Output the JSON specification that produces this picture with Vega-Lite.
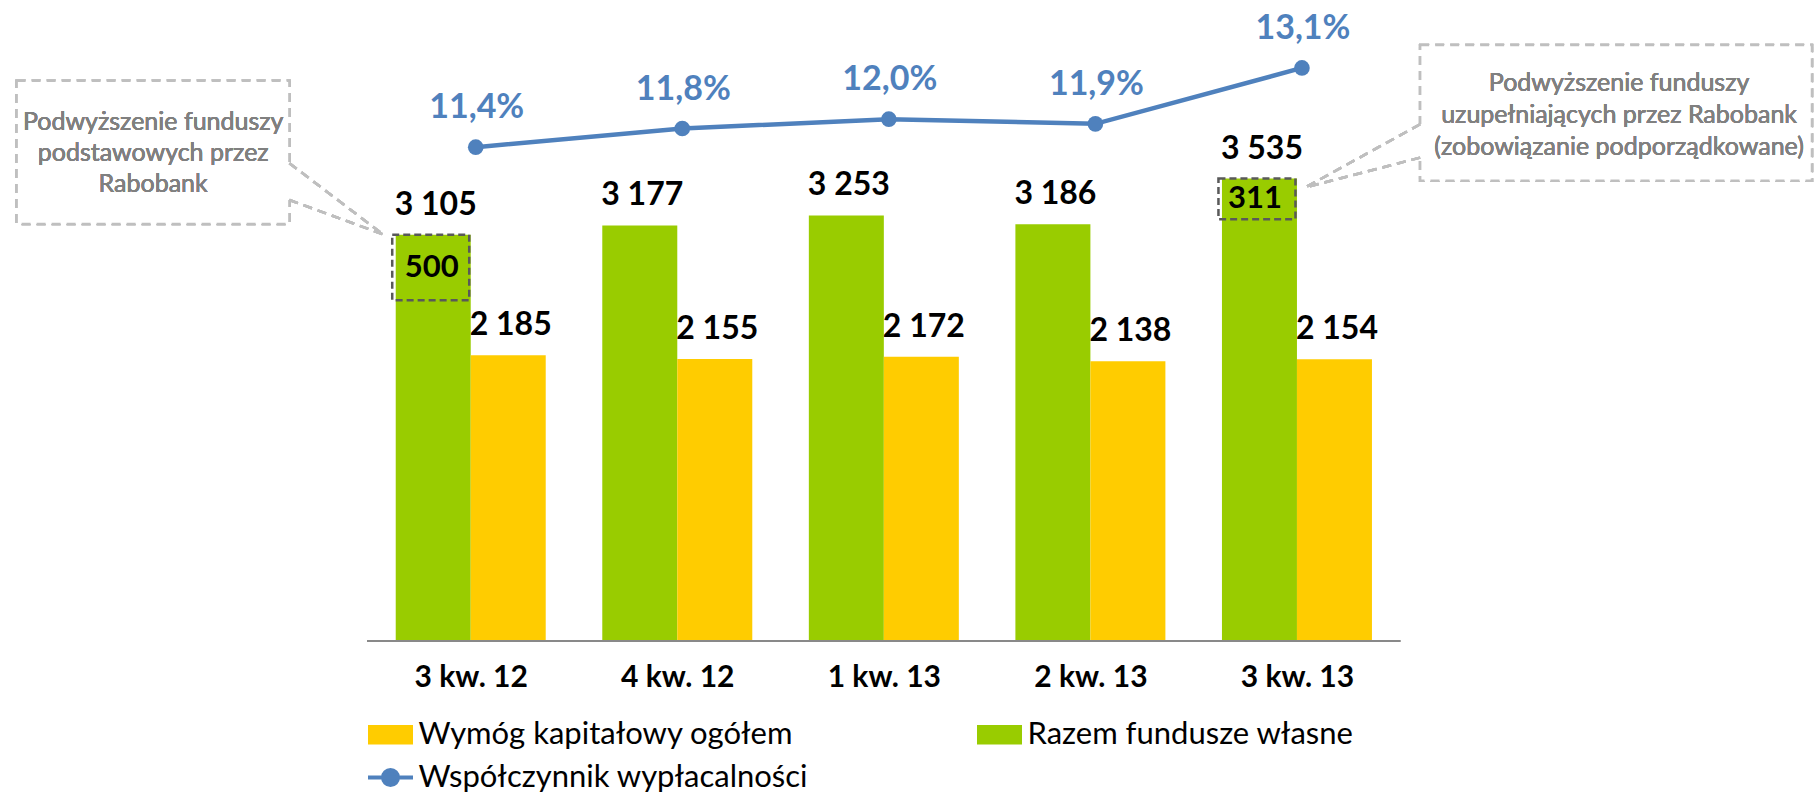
{
  "$schema": "https://vega.github.io/schema/vega-lite/v6.json",
  "width": 1820,
  "height": 641,
  "autosize": {"type": "none"},
  "padding": {"left": 0, "top": 0, "right": 0, "bottom": 154},
  "background": "white",
  "data": {
    "values": [
      {"kw": "3 kw. 12", "i": 0, "fundusze": 3105, "wymog": 2185, "wsp": 0.114, "przed": 2605, "podw": 500},
      {"kw": "4 kw. 12", "i": 1, "fundusze": 3177, "wymog": 2155, "wsp": 0.118},
      {"kw": "1 kw. 13", "i": 2, "fundusze": 3253, "wymog": 2172, "wsp": 0.120},
      {"kw": "2 kw. 13", "i": 3, "fundusze": 3186, "wymog": 2138, "wsp": 0.119},
      {"kw": "3 kw. 13", "i": 4, "fundusze": 3535, "wymog": 2154, "wsp": 0.131, "przed": 3224, "podw": 311}
    ]
  },
  "resolve": {"scale": {"y": "independent"}},
  "layer": [
    {
      "layer": [
        {
          "mark": {"type": "bar", "width": 75, "xOffset": -37.5},
          "encoding": {
            "x": {"field": "i", "type": "quantitative", "scale": {"domain": [-2.2547, 6.508], "nice": false, "zero": false},
              "axis": {"values": [0, 1, 2, 3, 4], "labelExpr": "['3 kw. 12','4 kw. 12','1 kw. 13','2 kw. 13','3 kw. 13'][datum.value]", "domain": false, "ticks": false, "tickSize": 0, "grid": false, "title": null, "labelFont": "Lato", "labelFontSize": 30, "labelFontWeight": "bold", "labelColor": "black", "labelBaseline": "alphabetic", "labelPadding": 45, "labelFlush": false, "labelOverlap": false}},
            "y": {"field": "fundusze", "type": "quantitative", "scale": {"domain": [0, 4900], "nice": false, "zero": false}, "axis": null},
            "color": {"datum": "Razem fundusze własne", "type": "nominal",
              "scale": {"domain": ["Wymóg kapitałowy ogółem", "Razem fundusze własne", "Współczynnik wypłacalności"], "range": ["#FFCC00", "#99CC00", "#4F81BD"]},
              "legend": {"orient": "none", "legendX": 375, "legendY": 719, "columns": 2, "direction": "horizontal", "title": null,
                "labelFont": "Lato", "labelFontSize": 31, "labelColor": "black", "labelLimit": 0, "labelOffset": 12.5,
                "symbolSize": 900, "columnPadding": 168, "rowPadding": 11, "symbolType": "square",
                "encode": {"symbols": {"update": {
                  "shape": {"signal": "datum.value === 'Współczynnik wypłacalności' ? 'M-1.5,0L1.5,0M-0.5,0A0.5,0.5,0,1,1,0.5,0A0.5,0.5,0,1,1,-0.5,0Z' : 'M-1.5,-0.65L1.5,-0.65L1.5,0.65L-1.5,0.65Z'"},
                  "fill": {"signal": "scale('color', datum.value)"},
                  "stroke": {"signal": "scale('color', datum.value)"},
                  "strokeWidth": {"signal": "datum.value === 'Współczynnik wypłacalności' ? 4 : 0"},
                  "size": {"value": 900},
                  "opacity": {"value": 1},
                  "fillOpacity": {"value": 1},
                  "strokeOpacity": {"value": 1}
                }}}}
            }
          }
        },
        {
          "mark": {"type": "bar", "width": 75, "xOffset": 37.5},
          "encoding": {
            "x": {"field": "i", "type": "quantitative", "scale": {"domain": [-2.2547, 6.508], "nice": false, "zero": false}},
            "y": {"field": "wymog", "type": "quantitative", "scale": {"domain": [0, 4900], "nice": false, "zero": false}},
            "color": {"datum": "Wymóg kapitałowy ogółem", "type": "nominal"}
          }
        },
        {
          "mark": {"type": "rule", "color": "#898989", "strokeWidth": 2},
          "encoding": {
            "x": {"datum": -0.5, "type": "quantitative", "scale": {"domain": [-2.2547, 6.508], "nice": false, "zero": false}},
            "x2": {"datum": 4.5},
            "y": {"datum": 0, "type": "quantitative", "scale": {"domain": [0, 4900], "nice": false, "zero": false}}
          }
        },
        {
          "mark": {"type": "text", "dx": -35, "dy": -20, "baseline": "alphabetic", "align": "center", "font": "Lato", "fontWeight": "bold", "fontSize": 32, "color": "black"},
          "encoding": {
            "x": {"field": "i", "type": "quantitative", "scale": {"domain": [-2.2547, 6.508], "nice": false, "zero": false}},
            "y": {"field": "fundusze", "type": "quantitative", "scale": {"domain": [0, 4900], "nice": false, "zero": false}},
            "text": {"field": "fundusze", "type": "quantitative", "format": ",d"}
          }
        },
        {
          "mark": {"type": "text", "dx": 40, "dy": -20, "baseline": "alphabetic", "align": "center", "font": "Lato", "fontWeight": "bold", "fontSize": 32, "color": "black"},
          "encoding": {
            "x": {"field": "i", "type": "quantitative", "scale": {"domain": [-2.2547, 6.508], "nice": false, "zero": false}},
            "y": {"field": "wymog", "type": "quantitative", "scale": {"domain": [0, 4900], "nice": false, "zero": false}},
            "text": {"field": "wymog", "type": "quantitative", "format": ",d"}
          }
        },
        {
          "transform": [{"filter": "isValid(datum.przed)"}],
          "mark": {"type": "bar", "width": 77, "xOffset": -40, "fillOpacity": 0, "stroke": "#595959", "strokeWidth": 2.5, "strokeDash": [7, 4]},
          "encoding": {
            "x": {"field": "i", "type": "quantitative", "scale": {"domain": [-2.2547, 6.508], "nice": false, "zero": false}},
            "y": {"field": "przed", "type": "quantitative", "scale": {"domain": [0, 4900], "nice": false, "zero": false}},
            "y2": {"field": "fundusze"}
          }
        },
        {
          "transform": [{"filter": "datum.i === 0"}],
          "mark": {"type": "text", "dx": -39, "dy": 32.7, "baseline": "middle", "align": "center", "font": "Lato", "fontWeight": "bold", "fontSize": 31, "color": "black"},
          "encoding": {
            "x": {"field": "i", "type": "quantitative", "scale": {"domain": [-2.2547, 6.508], "nice": false, "zero": false}},
            "y": {"field": "fundusze", "type": "quantitative", "scale": {"domain": [0, 4900], "nice": false, "zero": false}},
            "text": {"field": "podw", "type": "quantitative", "format": ",d"}
          }
        },
        {
          "transform": [{"filter": "datum.i === 4"}],
          "mark": {"type": "text", "dx": -42, "dy": 20.3, "baseline": "middle", "align": "center", "font": "Lato", "fontWeight": "bold", "fontSize": 31, "color": "black"},
          "encoding": {
            "x": {"field": "i", "type": "quantitative", "scale": {"domain": [-2.2547, 6.508], "nice": false, "zero": false}},
            "y": {"field": "fundusze", "type": "quantitative", "scale": {"domain": [0, 4900], "nice": false, "zero": false}},
            "text": {"field": "podw", "type": "quantitative", "format": ",d"}
          }
        },
        {
          "mark": {"type": "rect", "fill": "white", "stroke": "#BFBFBF", "strokeWidth": 2.5, "strokeDash": [9, 6]},
          "encoding": {
            "x": {"datum": -2.1984, "type": "quantitative", "scale": {"domain": [-2.2547, 6.508], "nice": false, "zero": false}},
            "x2": {"datum": -0.8777},
            "y": {"datum": 4283, "type": "quantitative", "scale": {"domain": [0, 4900], "nice": false, "zero": false}},
            "y2": {"datum": 3187}
          }
        },
        {
          "mark": {"type": "rule", "color": "white", "strokeWidth": 5},
          "encoding": {
            "x": {"datum": -0.8777, "type": "quantitative", "scale": {"domain": [-2.2547, 6.508], "nice": false, "zero": false}},
            "y": {"datum": 3652, "type": "quantitative", "scale": {"domain": [0, 4900], "nice": false, "zero": false}},
            "y2": {"datum": 3371}
          }
        },
        {
          "mark": {"type": "rule", "color": "#BFBFBF", "strokeWidth": 2.5, "strokeDash": [9, 6]},
          "encoding": {
            "x": {"datum": -0.8777, "type": "quantitative", "scale": {"domain": [-2.2547, 6.508], "nice": false, "zero": false}},
            "x2": {"datum": -0.4251},
            "y": {"datum": 3652, "type": "quantitative", "scale": {"domain": [0, 4900], "nice": false, "zero": false}},
            "y2": {"datum": 3109}
          }
        },
        {
          "mark": {"type": "rule", "color": "#BFBFBF", "strokeWidth": 2.5, "strokeDash": [9, 6]},
          "encoding": {
            "x": {"datum": -0.8777, "type": "quantitative", "scale": {"domain": [-2.2547, 6.508], "nice": false, "zero": false}},
            "x2": {"datum": -0.4251},
            "y": {"datum": 3371, "type": "quantitative", "scale": {"domain": [0, 4900], "nice": false, "zero": false}},
            "y2": {"datum": 3109}
          }
        },
        {
          "mark": {"type": "text", "text": ["Podwyższenie funduszy", "podstawowych przez", "Rabobank"], "align": "center", "baseline": "middle", "lineHeight": 31, "font": "Lato", "fontSize": 25, "fontWeight": "normal", "color": "#808080"},
          "encoding": {
            "x": {"datum": -1.5373, "type": "quantitative", "scale": {"domain": [-2.2547, 6.508], "nice": false, "zero": false}},
            "y": {"datum": 3970, "type": "quantitative", "scale": {"domain": [0, 4900], "nice": false, "zero": false}}
          }
        },
        {
          "mark": {"type": "rect", "fill": "white", "stroke": "#BFBFBF", "strokeWidth": 2.5, "strokeDash": [9, 6]},
          "encoding": {
            "x": {"datum": 4.5964, "type": "quantitative", "scale": {"domain": [-2.2547, 6.508], "nice": false, "zero": false}},
            "x2": {"datum": 6.4934},
            "y": {"datum": 4556, "type": "quantitative", "scale": {"domain": [0, 4900], "nice": false, "zero": false}},
            "y2": {"datum": 3519}
          }
        },
        {
          "mark": {"type": "rule", "color": "white", "strokeWidth": 5},
          "encoding": {
            "x": {"datum": 4.5964, "type": "quantitative", "scale": {"domain": [-2.2547, 6.508], "nice": false, "zero": false}},
            "y": {"datum": 3950, "type": "quantitative", "scale": {"domain": [0, 4900], "nice": false, "zero": false}},
            "y2": {"datum": 3695}
          }
        },
        {
          "mark": {"type": "rule", "color": "#BFBFBF", "strokeWidth": 2.5, "strokeDash": [9, 6]},
          "encoding": {
            "x": {"datum": 4.5964, "type": "quantitative", "scale": {"domain": [-2.2547, 6.508], "nice": false, "zero": false}},
            "x2": {"datum": 4.0404},
            "y": {"datum": 3950, "type": "quantitative", "scale": {"domain": [0, 4900], "nice": false, "zero": false}},
            "y2": {"datum": 3467}
          }
        },
        {
          "mark": {"type": "rule", "color": "#BFBFBF", "strokeWidth": 2.5, "strokeDash": [9, 6]},
          "encoding": {
            "x": {"datum": 4.5964, "type": "quantitative", "scale": {"domain": [-2.2547, 6.508], "nice": false, "zero": false}},
            "x2": {"datum": 4.0404},
            "y": {"datum": 3695, "type": "quantitative", "scale": {"domain": [0, 4900], "nice": false, "zero": false}},
            "y2": {"datum": 3467}
          }
        },
        {
          "mark": {"type": "text", "text": ["Podwyższenie funduszy", "uzupełniających przez Rabobank", "(zobowiązanie podporządkowane)"], "align": "center", "baseline": "middle", "lineHeight": 32, "font": "Lato", "fontSize": 25, "fontWeight": "normal", "color": "#808080"},
          "encoding": {
            "x": {"datum": 5.5595, "type": "quantitative", "scale": {"domain": [-2.2547, 6.508], "nice": false, "zero": false}},
            "y": {"datum": 4263, "type": "quantitative", "scale": {"domain": [0, 4900], "nice": false, "zero": false}}
          }
        }
      ]
    },
    {
      "layer": [
        {
          "mark": {"type": "line", "strokeWidth": 4.5, "xOffset": 5},
          "encoding": {
            "x": {"field": "i", "type": "quantitative", "scale": {"domain": [-2.2547, 6.508], "nice": false, "zero": false}},
            "y": {"field": "wsp", "type": "quantitative", "scale": {"domain": [0.008026, 0.145579], "nice": false, "zero": false}, "axis": null},
            "color": {"datum": "Współczynnik wypłacalności", "type": "nominal"}
          }
        },
        {
          "mark": {"type": "point", "filled": true, "size": 245, "opacity": 1, "xOffset": 5},
          "encoding": {
            "x": {"field": "i", "type": "quantitative", "scale": {"domain": [-2.2547, 6.508], "nice": false, "zero": false}},
            "y": {"field": "wsp", "type": "quantitative", "scale": {"domain": [0.008026, 0.145579], "nice": false, "zero": false}},
            "color": {"datum": "Współczynnik wypłacalności", "type": "nominal"}
          }
        },
        {
          "mark": {"type": "text", "dx": 6, "dy": -29, "baseline": "alphabetic", "align": "center", "font": "Lato", "fontWeight": "bold", "fontSize": 34, "color": "#4F81BD"},
          "encoding": {
            "x": {"field": "i", "type": "quantitative", "scale": {"domain": [-2.2547, 6.508], "nice": false, "zero": false}},
            "y": {"field": "wsp", "type": "quantitative", "scale": {"domain": [0.008026, 0.145579], "nice": false, "zero": false}},
            "text": {"field": "wsp", "type": "quantitative", "format": ".1%"}
          }
        }
      ]
    }
  ],
  "config": {
    "view": {"stroke": null},
    "font": "Lato",
    "locale": {"number": {"decimal": ",", "thousands": " ", "grouping": [3], "currency": ["", " zł"]}}
  }
}
